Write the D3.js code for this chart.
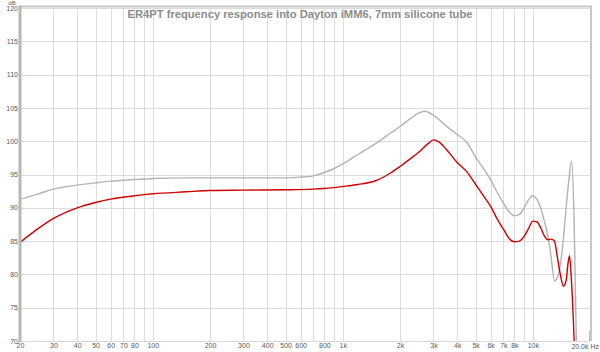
<!DOCTYPE html>
<html>
<head>
<meta charset="utf-8">
<script src="https://cdn.jsdelivr.net/npm/d3@7"></script>
<style>
  body { margin: 0; background: #fff; }
  svg { display: block; font-family: "Liberation Sans", Arial, sans-serif; }
  .grid line { stroke: #dcdcdc; stroke-width: 1; shape-rendering: crispEdges; }
  .grid path { display: none; }
  .lbl text { fill: #5a5a5a; font-size: 7px; }
  .lbl path, .lbl line { display: none; }
</style>
</head>
<body>
<svg id="chart"></svg>
<script>
// frequency response, Hz -> dB
var titleText = "ER4PT frequency response into Dayton iMM6, 7mm silicone tube";

var freqRed = [20, 25, 30, 40, 50, 60, 80, 100, 150, 200, 300, 500, 700, 800, 1000, 1200, 1500, 1800, 2000, 2300, 2500, 2800, 3000, 3200, 3500, 4000, 4500, 5000, 5500, 6000, 6500, 7000, 7500, 8000, 8500, 9000, 9500, 10000, 10500, 11000, 11500, 12000, 12500, 13000, 13500, 14000, 14500, 15000, 15300, 15600, 16000, 16500, 17000];
var dbRed = [84.8, 86.9, 88.4, 90.0, 90.8, 91.3, 91.8, 92.1, 92.4, 92.6, 92.65, 92.7, 92.8, 92.9, 93.2, 93.5, 94.1, 95.3, 96.2, 97.5, 98.3, 99.6, 100.2, 99.9, 98.8, 96.8, 95.4, 93.5, 91.8, 90.2, 88.3, 86.8, 85.4, 84.9, 85.0, 85.7, 86.9, 88.0, 87.9, 87.0, 85.8, 85.2, 85.3, 85.0, 82.4, 79.8, 78.2, 79.2, 81.5, 82.8, 78.7, 70, 58];

var freqGray = [20, 25, 30, 40, 50, 60, 80, 100, 150, 200, 300, 500, 600, 700, 800, 900, 1000, 1200, 1500, 1800, 2000, 2300, 2500, 2700, 3000, 3500, 4000, 4500, 5000, 5500, 6000, 6500, 7000, 7500, 8000, 8500, 9000, 9500, 10000, 10500, 11000, 11500, 12000, 12500, 13000, 13500, 14000, 14500, 15000, 15500, 16000, 16500, 17000, 17500, 18500, 19500, 20000];
var dbGray = [91.3, 92.1, 92.8, 93.4, 93.75, 94.0, 94.25, 94.4, 94.5, 94.5, 94.5, 94.5, 94.6, 94.8, 95.3, 95.9, 96.6, 98.0, 99.7, 101.3, 102.2, 103.5, 104.2, 104.5, 103.9, 102.3, 101.0, 99.8, 97.6, 95.9, 94.2, 92.3, 90.7, 89.4, 88.8, 89.0, 90.0, 91.2, 91.8, 91.3, 90.0, 88.0, 85.8, 82.5, 79.0, 79.6, 81.7, 85.5, 90.2, 94.3, 97.0, 88.0, 68, 58, 55, 62, 71.6];

var gridFreqs = [20, 30, 40, 50, 60, 70, 80, 90, 100, 200, 300, 400, 500, 600, 700, 800, 900, 1000, 2000, 3000, 4000, 5000, 6000, 7000, 8000, 9000, 10000, 20000];
var xTickVals = [20, 30, 40, 50, 60, 70, 80, 100, 200, 300, 400, 500, 600, 800, 1000, 2000, 3000, 4000, 5000, 6000, 7000, 8000, 10000];
var xTickText = ["20", "30", "40", "50", "60", "70", "80", "100", "200", "300", "400", "500", "600", "800", "1k", "2k", "3k", "4k", "5k", "6k", "7k", "8k", "10k"];
var yTicks = [70, 75, 80, 85, 90, 95, 100, 105, 110, 115, 120];

var svgWidth = 600, svgHeight = 352;
var padL = 20, padR = 590, padT = 8, padB = 341;

var svg = d3.select("#chart").attr("width", svgWidth).attr("height", svgHeight);

var x = d3.scaleLog().domain([20, 20000]).range([padL, padR]);
var y = d3.scaleLinear().domain([70, 120]).range([padB, padT]);

// grid
svg.append("g").attr("class", "grid")
  .attr("transform", "translate(0," + padB + ")")
  .call(d3.axisBottom(x).tickValues(gridFreqs).tickSize(-(padB - padT)).tickFormat(""));
svg.append("g").attr("class", "grid")
  .attr("transform", "translate(" + padL + ",0)")
  .call(d3.axisLeft(y).tickValues(yTicks).tickSize(-(padR - padL)).tickFormat(""));

// frame
svg.append("line").attr("x1", padL).attr("x2", padR + 1).attr("y1", padT - 1.5).attr("y2", padT - 1.5)
  .attr("stroke", "#c8c8c8").attr("stroke-width", 2);
svg.append("line").attr("x1", padR + 1).attr("x2", padR + 1).attr("y1", padT - 2.5).attr("y2", padB)
  .attr("stroke", "#c8c8c8").attr("stroke-width", 2);
svg.append("line").attr("x1", padL).attr("x2", padR).attr("y1", padB + 0.5).attr("y2", padB + 0.5)
  .attr("stroke", "#d8d8d8").attr("stroke-width", 1);

// curves
svg.append("clipPath").attr("id", "plotclip")
  .append("rect").attr("x", padL).attr("y", padT).attr("width", padR - padL).attr("height", padB - padT);

var line = d3.line()
  .x(function(d) { return x(d[0]); })
  .y(function(d) { return y(d[1]); })
  .curve(d3.curveMonotoneX);

var plot = svg.append("g").attr("clip-path", "url(#plotclip)");
plot.append("path").datum(d3.zip(freqGray, dbGray))
  .attr("d", line).attr("fill", "none").attr("stroke", "#b3b3b3").attr("stroke-width", 1.4);
plot.append("path").datum(d3.zip(freqRed, dbRed))
  .attr("d", line).attr("fill", "none").attr("stroke", "#d10000").attr("stroke-width", 1.4);

// left axis bar
svg.append("line").attr("x1", padL).attr("x2", padL).attr("y1", padT - 2.5).attr("y2", padB + 1)
  .attr("stroke", "#b8b8b8").attr("stroke-width", 3);

// labels
var yl = svg.append("g").attr("class", "lbl")
  .attr("transform", "translate(" + (padL - 2) + ",0)")
  .call(d3.axisLeft(y).tickValues(yTicks).tickSize(0).tickPadding(0));
yl.selectAll("text").attr("dy", "0.3em");

svg.append("g").attr("class", "lbl")
  .attr("transform", "translate(0," + padB + ")")
  .call(d3.axisBottom(x).tickValues(xTickVals).tickSize(0).tickPadding(2)
    .tickFormat(function(d, i) { return xTickText[i]; }));

svg.append("text").attr("x", 599).attr("y", 349).attr("text-anchor", "end")
  .attr("fill", "#5a5a5a").attr("font-size", "7px").text("20.0k Hz");
svg.append("text").attr("x", 12).attr("y", 5).attr("text-anchor", "middle")
  .attr("fill", "#5a5a5a").attr("font-size", "6px").text("dB");

svg.append("text").attr("x", 300).attr("y", 18).attr("text-anchor", "middle")
  .attr("fill", "#8c8c8c").attr("font-size", "11.2px").attr("font-weight", "bold")
  .text(titleText);
</script>
</body>
</html>
